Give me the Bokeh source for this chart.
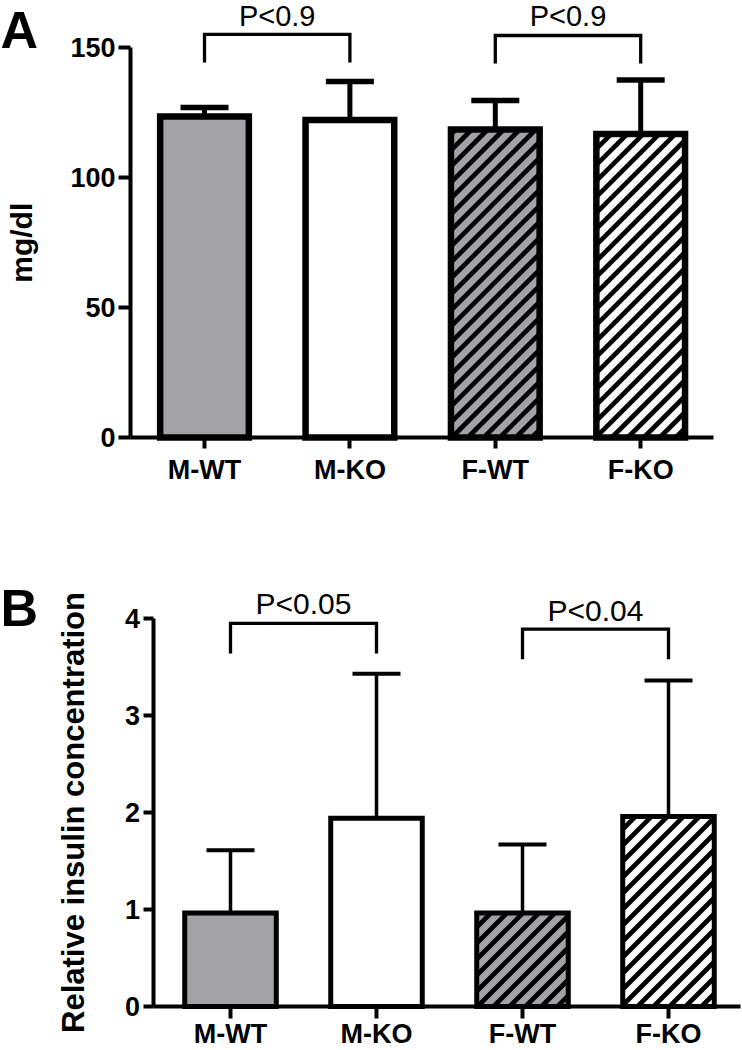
import math
import numpy as np
from bokeh.plotting import figure
from bokeh.models import Range1d, FixedTicker, Label, LinearAxis
from bokeh.core.properties import value
from bokeh.embed import file_html
from bokeh.resources import INLINE

# ---------------- data ----------------
groups = ["M-WT", "M-KO", "F-WT", "F-KO"]
bar_fill = ["#a3a3a7", "#ffffff", "#a3a3a7", "#ffffff"]
hatched = [False, False, True, True]
comparisons = [(0, 1), (2, 3)]

# panel A: glucose (mg/dl)
glucose_mean = [123.6, 122.3, 118.6, 116.9]
glucose_err = [3.5, 14.8, 11.2, 20.8]
glucose_yticks = [0, 50, 100, 150]
glucose_p = ["P<0.9", "P<0.9"]
glucose_bracket_top = [155.2, 154.8]
glucose_bracket_leg = [144.4, 144.0]
glucose_p_y = [157.9, 157.9]

# panel B: relative insulin concentration
insulin_mean = [0.965, 1.94, 0.965, 1.96]
insulin_err = [0.645, 1.49, 0.705, 1.40]
insulin_yticks = [0, 1, 2, 3, 4]
insulin_p = ["P<0.05", "P<0.04"]
insulin_bracket_top = [3.95, 3.89]
insulin_bracket_leg = [3.64, 3.58]
insulin_p_y = [4.03, 3.96]

FONT = "Liberation Sans"
W, H = 742, 1050
K_TEXT = 0.40    # empirical baseline correction of svg text (fraction of font size)
K_LETTER = 0.40

# pixel anchors of each panel (canvas px, y downward)
A = dict(x0px=204.0, sx=145.4, y0px=437.0, sy=2.597, axis_px=130.0, xend_px=713.0)
B = dict(x0px=230.0, sx=146.0, y0px=1006.0, sy=97.0, axis_px=152.5, xend_px=740.0)


def ranges(g):
    xs = 0.5 - g["x0px"] / g["sx"]
    xe = 0.5 + (W - g["x0px"]) / g["sx"]
    ye = g["y0px"] / g["sy"]
    ys = (g["y0px"] - H) / g["sy"]
    return xs, xe, ys, ye


def px2x(g, px):
    return 0.5 + (px - g["x0px"]) / g["sx"]


axs, axe, ays, aye = ranges(A)
bxs, bxe, bys, bye = ranges(B)

p = figure(width=W, height=H, x_range=Range1d(axs, axe), y_range=Range1d(ays, aye),
           output_backend="svg", toolbar_location=None, min_border=0,
           x_axis_location=None, y_axis_location=None)
p.extra_x_ranges = {"bx": Range1d(bxs, bxe)}
p.extra_y_ranges = {"by": Range1d(bys, bye)}
p.outline_line_color = None
p.grid.visible = False
p.background_fill_color = "white"
p.border_fill_color = "white"


def style_axis(ax, tick_out, standoff):
    ax.axis_line_width = 4
    ax.axis_line_color = "black"
    ax.major_tick_line_width = 4
    ax.major_tick_line_color = "black"
    ax.major_tick_out = tick_out
    ax.major_tick_in = 0
    ax.minor_tick_out = 0
    ax.minor_tick_in = 0
    ax.major_label_text_font = FONT
    ax.major_label_text_font_size = "27px"
    ax.major_label_text_font_style = "bold"
    ax.major_label_text_color = "black"
    ax.major_label_standoff = standoff


def panel(g, rn, means, errs, yticks, ylabel, ylab_px, ylab_size, pvals, pfs, br_top, br_leg,
          p_y, letter, letter_base_px, bar_w, bar_lw, err_lw, br_lw, xtick_out, ytick_out,
          xstandoff):
    kw = {} if rn is None else dict(x_range_name=rn[0], y_range_name=rn[1])
    sx, sy = g["sx"], g["sy"]
    xs = [i + 0.5 for i in range(len(groups))]
    tops = [m + e for m, e in zip(means, errs)]

    p.vbar(x=xs, top=means, width=bar_w, bottom=0, fill_color=bar_fill, line_color=None, **kw)

    # 45-degree hatching computed in pixel space
    step = 16.0
    hx0, hy0, hx1, hy1 = [], [], [], []
    for xc, m, h in zip(xs, means, hatched):
        if not h:
            continue
        L = (xc - bar_w / 2) * sx
        R = (xc + bar_w / 2) * sx
        Bt = 0.0
        T = m * sy
        k0 = int(np.floor((L - T) / step)) - 1
        k1 = int(np.ceil((R - Bt) / step)) + 1
        for k in range(k0, k1 + 1):
            c = k * step
            xa = max(L, Bt + c)
            xb = min(R, T + c)
            if xb - xa > 0.5:
                hx0.append(xa / sx); hy0.append((xa - c) / sy)
                hx1.append(xb / sx); hy1.append((xb - c) / sy)
    p.segment(x0=hx0, y0=hy0, x1=hx1, y1=hy1, line_color="black", line_width=4.7, **kw)

    p.vbar(x=xs, top=means, width=bar_w, bottom=0, fill_color=None,
           line_color="black", line_width=bar_lw, line_join="miter", **kw)

    capw = 48.0 / sx
    p.segment(x0=xs, y0=means, x1=xs, y1=tops, line_color="black", line_width=err_lw, **kw)
    p.segment(x0=[x - capw / 2 for x in xs], y0=tops, x1=[x + capw / 2 for x in xs], y1=tops,
              line_color="black", line_width=err_lw + 0.5, **kw)

    bx, by, tx = [], [], []
    for (a, b), top, leg in zip(comparisons, br_top, br_leg):
        bx.append([xs[a], xs[a], xs[b], xs[b]])
        by.append([leg, top, top, leg])
        tx.append((xs[a] + xs[b]) / 2)
    p.multi_line(xs=bx, ys=by, line_color="black", line_width=br_lw, line_join="miter", **kw)
    p.text(x=tx, y=[v + K_TEXT * pfs / sy for v in p_y], text=pvals, text_font=value(FONT),
           text_font_size=f"{pfs}px", text_align="center", text_baseline="alphabetic",
           text_color="black", **kw)

    axis_x = px2x(g, g["axis_px"])
    xend = px2x(g, g["xend_px"])
    xaxis = LinearAxis(fixed_location=0, bounds=(axis_x, xend), **kw)
    xaxis.ticker = FixedTicker(ticks=xs)
    xaxis.major_label_overrides = {x: name for x, name in zip(xs, groups)}
    style_axis(xaxis, xtick_out, xstandoff)
    p.add_layout(xaxis, "below")

    yaxis = LinearAxis(fixed_location=axis_x, bounds=(yticks[0], yticks[-1]), **kw)
    yaxis.ticker = FixedTicker(ticks=yticks)
    style_axis(yaxis, ytick_out, 3)
    p.add_layout(yaxis, "left")

    # y-axis title (rotated), centred on the axis line extent
    p.add_layout(Label(x=px2x(g, ylab_px - K_TEXT * ylab_size), y=(yticks[0] + yticks[-1]) / 2,
                       text=ylabel, angle=math.pi / 2, text_font=FONT,
                       text_font_size=f"{ylab_size}px", text_font_style="bold",
                       text_align="center", text_baseline="alphabetic", text_color="black",
                       **kw))
    # panel letter at the left edge of the canvas
    lfs = 52
    p.add_layout(Label(x=px2x(g, 0), y=(g["y0px"] - letter_base_px + K_LETTER * lfs) / sy,
                       text=letter, text_font=FONT, text_font_size=f"{lfs}px",
                       text_font_style="bold", text_align="left", text_baseline="alphabetic",
                       text_color="black", **kw))


panel(A, None, glucose_mean, glucose_err, glucose_yticks, "mg/dl", 33, 30,
      glucose_p, 29, glucose_bracket_top, glucose_bracket_leg, glucose_p_y, "A", 50,
      bar_w=0.61, bar_lw=6.5, err_lw=5, br_lw=3.3, xtick_out=11, ytick_out=12, xstandoff=6)

panel(B, ("bx", "by"), insulin_mean, insulin_err, insulin_yticks,
      "Relative insulin concentration", 85, 31,
      insulin_p, 30, insulin_bracket_top, insulin_bracket_leg, insulin_p_y, "B", 628,
      bar_w=0.627, bar_lw=5, err_lw=3.5, br_lw=3.3, xtick_out=12, ytick_out=10, xstandoff=0)

open("out.html", "w").write(file_html(p, INLINE))
